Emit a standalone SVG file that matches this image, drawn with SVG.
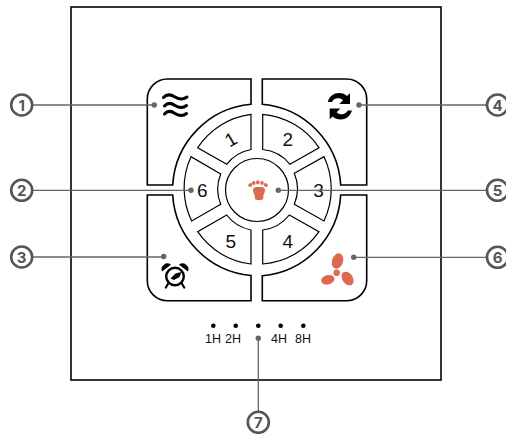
<svg xmlns="http://www.w3.org/2000/svg" width="506" height="434" viewBox="0 0 506 434">
<style>
.o{fill:#fff;stroke:#000;stroke-width:1.6}
.s{fill:#fff;stroke:#000;stroke-width:1.2}
.d{font:19px "Liberation Sans",Arial,sans-serif;fill:#111;text-anchor:middle}
.h{font:12.500px "Liberation Sans",Arial,sans-serif;fill:#111;text-anchor:middle}
.l{stroke:#666;stroke-width:1.3;fill:none}
.p{fill:#666}
.c{fill:#fff;stroke:#555;stroke-width:2.600}
.n{font:700 15px Inter,"Liberation Sans",sans-serif;fill:#555;text-anchor:middle}
.r{fill:#dc6a50}
</style>
<rect id="device" class="o" x="71" y="7" width="370" height="373"/>
<g id="panel-tl"><path class="o" d="M251 79V104.300A86 86 0 0 0 172.700 185H147.300V99A20 20 0 0 1 167.300 79Z"/>
<g fill="none" stroke="#000" stroke-width="3" stroke-linecap="round"><path d="M163.500 97.500C167 93.500 171 94.500 175 97C179 99.500 183 100 187 97"/><path d="M164.500 106C168 102 171.500 103 175 105.500C179 108 183 108.500 186.500 105.500"/><path d="M164.500 114C168 110 171.500 111 175 113.500C179 116 183 116.500 186.500 113.500"/></g></g>
<g id="panel-tr"><path class="o" d="M262.300 79H346.700A20 20 0 0 1 366.700 99V185H340.700A86 86 0 0 0 262.300 104.300Z"/>
<g id="refresh"><path id="ra" d="M327.700 102C329.500 96 334 93 339 93C342.500 93 345 94 347 96L350 93.300V104H339.300L343 100.300C341.500 98.800 340 98.300 338 98.300C335 98.300 333 100 332 102Z"/><path d="M352 110.500C350.200 116.500 345.700 119.500 340.700 119.500C337.200 119.500 334.700 118.500 332.700 116.500L329.700 119.200V108.500H340.400L336.700 112.200C338.200 113.700 339.700 114.200 341.700 114.200C344.700 114.200 346.700 112.500 347.700 110.500Z"/></g></g>
<g id="panel-bl"><path class="o" d="M147.300 195H172.700A86 86 0 0 0 251 275.500V300.700H167.300A20 20 0 0 1 147.300 280.700Z"/>
<g id="alarm"><circle cx="175" cy="276.500" r="8.800" fill="none" stroke="#000" stroke-width="2.400"/><path d="M162 271.500A5.800 5.800 0 0 1 171 264.800ZM188 271.500A5.800 5.800 0 0 0 179 264.800Z"/><path d="M168.500 283L165.800 287.500M181.500 283L184.200 287.500" stroke="#000" stroke-width="2.200" stroke-linecap="round"/><path d="M170.500 278.500L175.500 273.500L181.500 272L179.500 277L174 280Z"/></g></g>
<g id="panel-br"><path class="o" d="M366.700 195H340.700A86 86 0 0 1 262.300 275.700V300.700H346.700A20 20 0 0 0 366.700 280.700Z"/>
<g id="fan" class="r"><circle cx="336.700" cy="272.700" r="3.200"/><ellipse cx="337.500" cy="261" rx="5.500" ry="8" transform="rotate(18 337.500 261)"/><ellipse cx="327.800" cy="279.800" rx="6.800" ry="4.700" transform="rotate(-15 327.800 279.800)"/><ellipse cx="347.600" cy="278.500" rx="5.200" ry="7.500" transform="rotate(-35 347.600 278.500)"/></g></g>
<g id="seg-1"><path class="s" d="M251 114.300A75 75 0 0 0 197.700 147.700L226.700 164.300A40 40 0 0 1 251 149.500Z"/><text class="d" transform="translate(234 145) rotate(-30)">1</text></g>
<g id="seg-2"><path class="s" d="M262.700 114.300A75 75 0 0 1 319 147.700L290 164.300A40 40 0 0 0 262.700 149.500Z"/><text class="d" x="287.700" y="146">2</text></g>
<g id="seg-3"><path class="s" d="M324 156.700A75 75 0 0 1 324 221L294.300 204.300A40 40 0 0 0 294.300 173.300Z"/><text class="d" x="318.500" y="196.500">3</text></g>
<g id="seg-4"><path class="s" d="M262.700 230A40 40 0 0 0 289.300 215L319 231.700A75 75 0 0 1 262.700 264Z"/><text class="d" x="287.700" y="248">4</text></g>
<g id="seg-5"><path class="s" d="M251 230A40 40 0 0 1 226.700 215L197.700 231.700A75 75 0 0 0 251 264Z"/><text class="d" x="230.700" y="248">5</text></g>
<g id="seg-6"><path class="s" d="M191 156.700A75 75 0 0 0 191.700 221L220.700 204.300A40 40 0 0 1 220.700 174Z"/><text class="d" x="202.300" y="197">6</text></g>
<g id="hub"><circle class="s" cx="257" cy="190" r="31.500"/>
<g id="foot" class="r"><path d="M253 190C253 187.500 255 187 258.500 187C262.500 187 265 187.500 265 190C265 193 263.500 194 263.300 196V198C263.300 199.500 262 200 259 200C256 200 254.800 199.500 254.800 198V196C254.800 194 253 193 253 190Z"/><ellipse cx="250.300" cy="185" rx="2.200" ry="1.700" transform="rotate(-35 250.300 185)"/><ellipse cx="253.700" cy="183" rx="1.800" ry="2"/><ellipse cx="257.800" cy="182.300" rx="1.800" ry="2.100"/><ellipse cx="262" cy="183" rx="1.800" ry="2"/><ellipse cx="265.800" cy="185" rx="2.200" ry="1.700" transform="rotate(35 265.800 185)"/></g></g>
<g id="leds"><circle cx="213.300" cy="325.700" r="2.300"/><circle cx="235.700" cy="325.700" r="2.300"/><circle cx="258.300" cy="325.700" r="2.300"/><circle cx="280.700" cy="325.700" r="2.300"/><circle cx="303.300" cy="325.700" r="2.300"/><text class="h" x="213" y="342.500">1H</text><text class="h" x="233" y="342.500">2H</text><text class="h" x="279" y="342.500">4H</text><text class="h" x="303" y="342.500">8H</text></g>
<g id="connectors"><path class="l" d="M33 105H154M33 190.300H191M33 257H164M486 105H359M486 190.300H278M486 257.300H354M258.300 338V411"/>
<circle class="p" cx="154.300" cy="105" r="2.700"/><circle class="p" cx="191" cy="190.300" r="2.700"/><circle class="p" cx="163.700" cy="256.500" r="2.700"/><circle class="p" cx="359" cy="105" r="2.700"/><circle class="p" cx="278.300" cy="190.300" r="2.700"/><circle class="p" cx="353.700" cy="257.300" r="2.700"/><circle class="p" cx="258.300" cy="338.300" r="2.700"/></g>
<g id="call-1"><circle class="c" cx="21.700" cy="105" r="10.500"/><text class="n" x="21.700" y="110.500">1</text></g>
<g id="call-2"><circle class="c" cx="21.700" cy="190.300" r="10.500"/><text class="n" x="21.700" y="195.800">2</text></g>
<g id="call-3"><circle class="c" cx="21.700" cy="257" r="10.500"/><text class="n" x="21.700" y="262.500">3</text></g>
<g id="call-4"><circle class="c" cx="497.500" cy="105" r="10.500"/><text class="n" x="497.500" y="110.500">4</text></g>
<g id="call-5"><circle class="c" cx="497.500" cy="190.300" r="10.500"/><text class="n" x="497.500" y="195.800">5</text></g>
<g id="call-6"><circle class="c" cx="497.500" cy="257.300" r="10.500"/><text class="n" x="497.500" y="262.800">6</text></g>
<g id="call-7"><circle class="c" cx="258.300" cy="422.300" r="10.500"/><text class="n" x="258.300" y="427.800">7</text></g>
</svg>
